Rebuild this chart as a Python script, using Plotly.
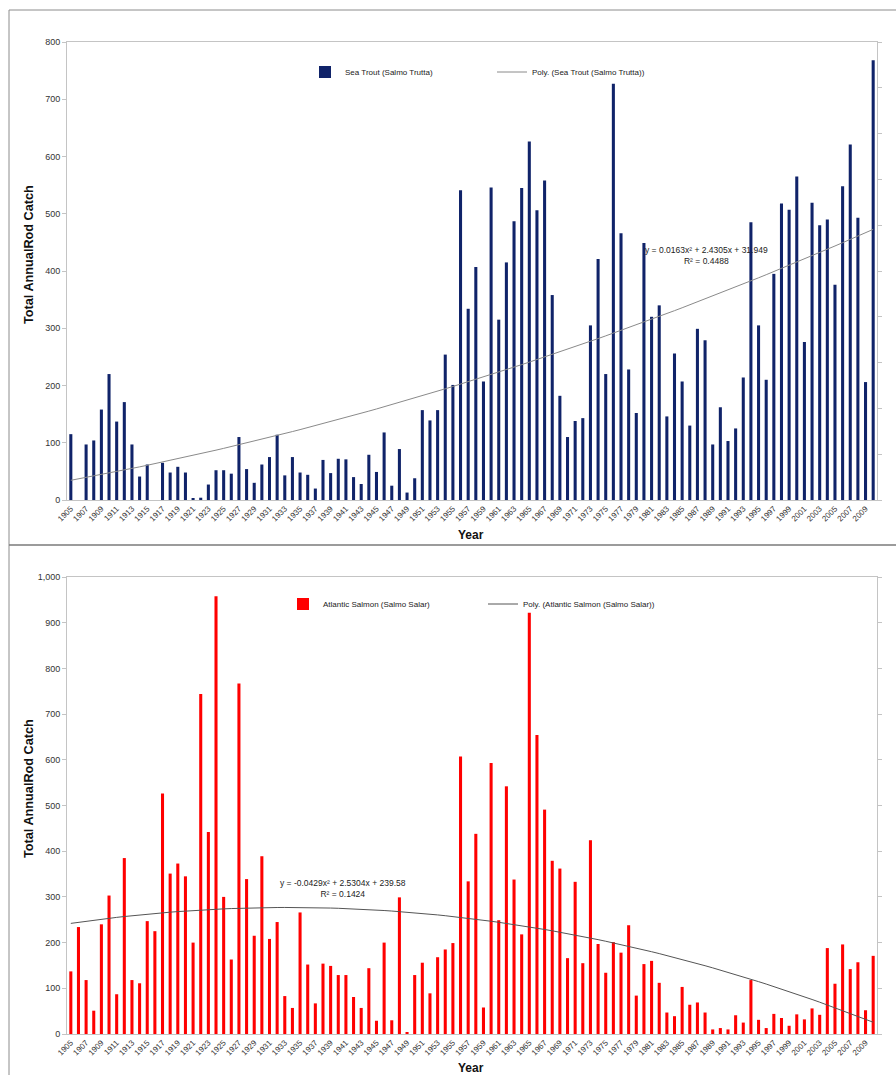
import plotly.graph_objects as go

years = [str(y) for y in range(1905, 2011)]
tick_years = [str(y) for y in range(1905, 2011, 2)]

sea_trout = [
    115, 0, 97, 104, 158, 220, 137, 171, 97, 41,
    62, 0, 65, 48, 58, 48, 2, 4, 27, 52,
    52, 46, 110, 54, 30, 62, 75, 114, 43, 75,
    48, 44, 20, 70, 47, 72, 71, 40, 28, 79,
    49, 118, 25, 89, 13, 38, 157, 139, 157, 254,
    201, 541, 334, 407, 207, 546, 315, 415, 487, 545,
    626, 506, 558, 358, 182, 110, 138, 143, 305, 421,
    220, 727, 466, 228, 152, 449, 320, 340, 146, 256,
    207, 130, 299, 279, 97, 162, 103, 125, 214, 485,
    305, 210, 395, 518, 507, 565, 276, 519, 480, 490,
    376, 548, 621, 493, 206, 768,
]

salmon = [
    137, 234, 118, 51, 240, 303, 87, 385, 118, 111,
    247, 225, 526, 351, 373, 345, 200, 744, 442, 958,
    300, 163, 767, 339, 215, 389, 208, 245, 83, 57,
    266, 152, 67, 154, 149, 129, 129, 81, 57, 144,
    29, 200, 30, 299, 4, 129, 156, 89, 168, 185,
    199, 607, 334, 438, 58, 593, 249, 542, 338, 218,
    922, 654, 491, 379, 362, 166, 333, 155, 424, 197,
    134, 201, 178, 238, 84, 153, 160, 112, 47, 39,
    103, 64, 69, 47, 10, 13, 10, 41, 25, 118,
    31, 13, 44, 35, 18, 43, 32, 56, 42, 188,
    110, 196, 142, 157, 52, 171,
]

# Trendline coefficients as printed on the chart (x = 1..n)
trout_coef = (0.0163, 2.4305, 31.949)
salmon_coef = (-0.0429, 2.5304, 239.58)
trout_eq = "y = 0.0163x² + 2.4305x + 31.949<br>R² = 0.4488"
salmon_eq = "y = -0.0429x² + 2.5304x + 239.58<br>R² = 0.1424"

def poly(coef, n):
    a, b, c = coef
    return [a * i * i + b * i + c for i in range(1, n + 1)]

FONT = "Liberation Sans, Arial, sans-serif"
W, H = 896, 1075
ML, MR, MT, MB = 67, 19, 42, 41
PW = W - ML - MR
PH = H - MT - MB

def px_x(p):
    return (p - ML) / PW

def px_y(p):
    return (H - MB - p) / PH

fig = go.Figure()

fig.add_trace(go.Bar(x=years, y=sea_trout, name="Sea Trout (Salmo Trutta)",
                     marker=dict(color="#102369", line=dict(width=0)),
                     xaxis="x", yaxis="y", legend="legend"))
fig.add_trace(go.Scatter(x=years, y=poly(trout_coef, len(years)), mode="lines",
                         name="Poly. (Sea Trout (Salmo Trutta))",
                         line=dict(color="#8a8a8a", width=1),
                         xaxis="x", yaxis="y", legend="legend"))
fig.add_trace(go.Bar(x=years, y=salmon, name="Atlantic Salmon (Salmo Salar)",
                     marker=dict(color="#ff0000", line=dict(width=0)),
                     xaxis="x2", yaxis="y2", legend="legend2"))
fig.add_trace(go.Scatter(x=years, y=poly(salmon_coef, len(years)), mode="lines",
                         name="Poly. (Atlantic Salmon (Salmo Salar))",
                         line=dict(color="#555555", width=1),
                         xaxis="x2", yaxis="y2", legend="legend2"))
# empty traces to show right-hand secondary tick marks
fig.add_trace(go.Scatter(x=[], y=[], xaxis="x", yaxis="y3", showlegend=False))
fig.add_trace(go.Scatter(x=[], y=[], xaxis="x2", yaxis="y4", showlegend=False))

top_dom = [px_y(500), 1.0]
bot_dom = [0.0, px_y(577)]

xcommon = dict(type="category", categoryorder="array", categoryarray=years,
               tickmode="array", tickvals=tick_years, ticktext=tick_years,
               tickangle=-45, tickfont=dict(size=8, color="#333333", family=FONT),
               showline=True, mirror=True, linecolor="#c4c4c4", linewidth=1,
               showgrid=False, ticks="", zeroline=False)
ycommon = dict(showline=True, mirror=False, linecolor="#c4c4c4", linewidth=1,
               showgrid=False, ticks="outside", ticklen=4, tickcolor="#c4c4c4",
               tickfont=dict(size=9, color="#333333", family=FONT), zeroline=False)
yright = dict(side="right", showline=True, linecolor="#c4c4c4", linewidth=1,
              ticks="outside", ticklen=4, tickcolor="#c4c4c4", showticklabels=False,
              showgrid=False, zeroline=False, range=[0, 10], dtick=1)

fig.update_layout(
    width=W, height=H,
    margin=dict(l=ML, r=MR, t=MT, b=MB),
    paper_bgcolor="white", plot_bgcolor="white",
    font=dict(family=FONT, color="#222222"),
    bargap=0.6,
    xaxis=dict(domain=[0, 1], anchor="y", **xcommon),
    yaxis=dict(domain=top_dom, anchor="x", range=[0, 800], dtick=100, **ycommon),
    yaxis3=dict(overlaying="y", anchor="x", **yright),
    xaxis2=dict(domain=[0, 1], anchor="y2", **xcommon),
    yaxis2=dict(domain=bot_dom, anchor="x2", range=[0, 1000], dtick=100,
                tickformat=",", **ycommon),
    yaxis4=dict(overlaying="y2", anchor="x2", **yright),
    legend=dict(orientation="h", x=px_x(305), y=px_y(72), xanchor="left", yanchor="middle",
                font=dict(size=8, color="#222222", family=FONT), bgcolor="rgba(0,0,0,0)",
                entrywidth=142, entrywidthmode="pixels", itemwidth=30),
    legend2=dict(orientation="h", x=px_x(283), y=px_y(604), xanchor="left", yanchor="middle",
                 font=dict(size=8, color="#222222", family=FONT), bgcolor="rgba(0,0,0,0)",
                 entrywidth=155, entrywidthmode="pixels", itemwidth=30),
    showlegend=True,
)

def note(text, x, y, font, angle=0):
    fig.add_annotation(text=text, textangle=angle, xref="paper", yref="paper",
                       x=px_x(x), y=px_y(y), xanchor="center", yanchor="middle",
                       showarrow=False, font=font)

ann_font_title = dict(family=FONT, size=12.7, color="#111111")
year_font = dict(family=FONT, size=12, color="#111111")
eq_font = dict(family=FONT, size=8.5, color="#222222")
note("<b>Total AnnualRod Catch</b>", 29, 255, ann_font_title, -90)
note("<b>Total AnnualRod Catch</b>", 29, 789, ann_font_title, -90)
note("<b>Year</b>", 471, 535, year_font)
note("<b>Year</b>", 471, 1068, year_font)
note(trout_eq, 706, 256, eq_font)
note(salmon_eq, 343, 889, eq_font)

# panel frames
border = dict(color="#8c8c8c", width=1)
fig.add_shape(type="line", xref="paper", yref="paper", x0=px_x(9), x1=px_x(896),
              y0=px_y(10), y1=px_y(10), line=border)
fig.add_shape(type="line", xref="paper", yref="paper", x0=px_x(9), x1=px_x(9),
              y0=px_y(10), y1=px_y(1075), line=border)
fig.add_shape(type="line", xref="paper", yref="paper", x0=px_x(9), x1=px_x(896),
              y0=px_y(545), y1=px_y(545), line=dict(color="#7a7a7a", width=1.5))

fig.write_html("out.html", config={"displayModeBar": False},
               post_script="document.body.style.margin='0';document.body.style.overflow='hidden';")
